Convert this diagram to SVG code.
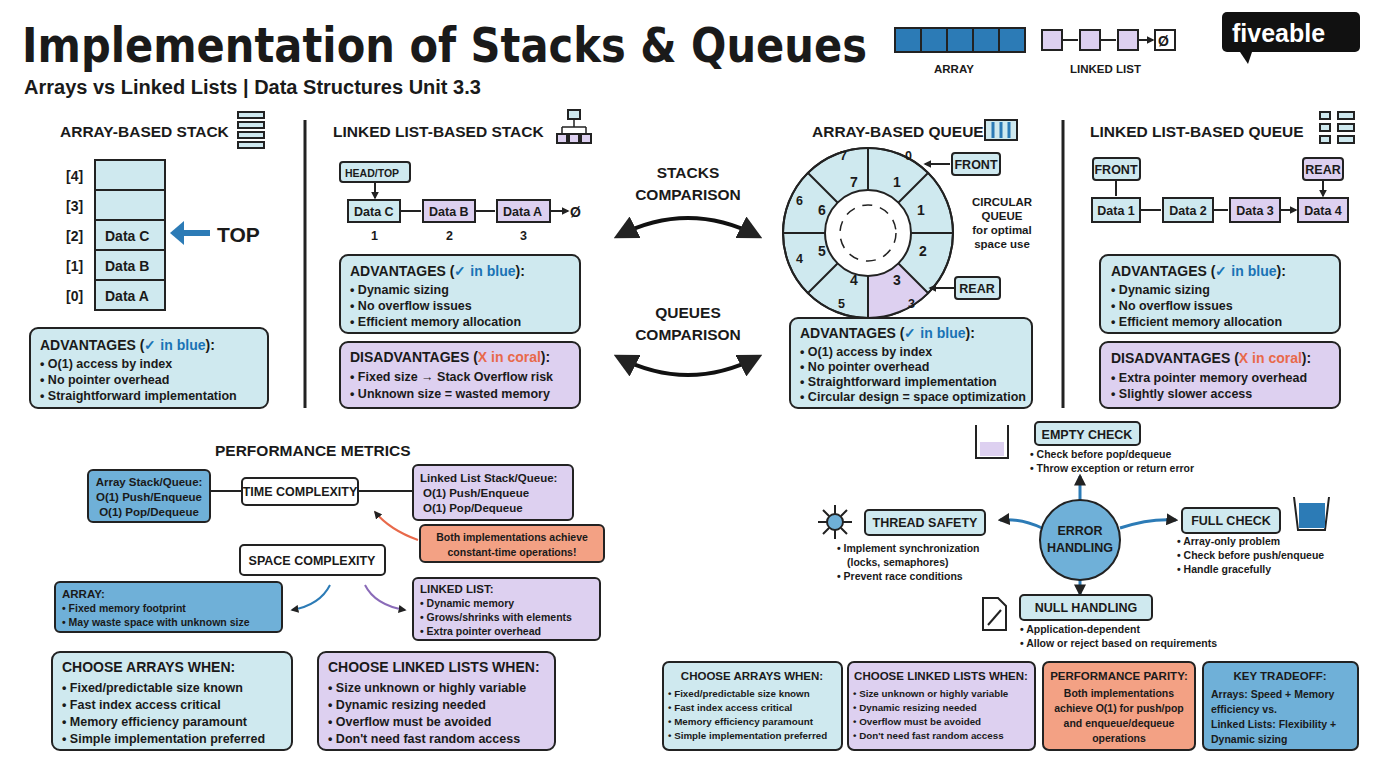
<svg xmlns="http://www.w3.org/2000/svg" width="1376" height="768" viewBox="0 0 1376 768">
<defs>
<style>
text{font-family:"Liberation Sans",Arial,sans-serif;font-weight:bold;fill:#1a1a1a}
.t{font-size:12.5px}
.s{font-size:11.5px}
.x{font-size:10.5px}
.h{font-size:14px}
.sec{font-size:15.5px}
.lb{fill:#cfe9ef;stroke:#222;stroke-width:2}
.pu{fill:#ddd0f0;stroke:#222;stroke-width:2}
.bl{fill:#6fb0d8;stroke:#222;stroke-width:2}
.co{fill:#f3a184;stroke:#222;stroke-width:2}
.wh{fill:#fff;stroke:#222;stroke-width:2}
.ln{fill:none;stroke:#222;stroke-width:2}
.bv{fill:#1a73b5}
.cr{fill:#e8694a}
</style>
<marker id="a" viewBox="0 0 10 10" refX="8" refY="5" markerWidth="6" markerHeight="6" orient="auto-start-reverse"><path d="M0,0L10,5L0,10z" fill="#222"/></marker>
<marker id="ab" viewBox="0 0 10 10" refX="8" refY="5" markerWidth="4" markerHeight="4" orient="auto-start-reverse"><path d="M0,0L10,5L0,10z" fill="#222"/></marker>
</defs>
<rect width="1376" height="768" fill="#fff"/>

<g id="title">
<text x="22" y="62" textLength="845" lengthAdjust="spacingAndGlyphs" style="font-size:48px;font-family:'DejaVu Sans',sans-serif">Implementation of Stacks &amp; Queues</text>
<text x="24" y="94" style="font-size:20px">Arrays vs Linked Lists | Data Structures Unit 3.3</text>
</g>
<g id="legend">
<rect x="895" y="28" width="130" height="24" fill="#2c7bb6" stroke="#222" stroke-width="2"/>
<path d="M921,28v24M947,28v24M973,28v24M999,28v24" stroke="#222" stroke-width="2"/>
<text x="934" y="73" class="s">ARRAY</text>
<rect x="1042" y="30" width="20" height="20" class="pu"/><rect x="1080" y="30" width="20" height="20" class="pu"/><rect x="1118" y="30" width="20" height="20" class="pu"/><rect x="1155" y="30" width="20" height="20" class="wh"/>
<text x="1158" y="46" class="h">Ø</text>
<path d="M1062,40h16M1100,40h16M1138,40h15" class="ln" marker-end="url(#ab)"/>
<text x="1070" y="73" class="s">LINKED LIST</text>
<rect x="1222" y="12" width="138" height="40" rx="5" fill="#111"/><path d="M1240,52l8,12 4,-12z" fill="#111"/>
<text x="1232" y="42" style="font-size:25px;fill:#fff">fiveable</text>
</g>

<g id="dividers"><path d="M305,120V408M1063,120V408" stroke="#222" stroke-width="3"/></g>

<g id="array-stack">
<text x="60" y="137" class="sec">ARRAY-BASED STACK</text>
<rect x="238" y="112" width="26" height="6" class="lb"/><rect x="238" y="122" width="26" height="6" class="lb"/><rect x="238" y="132" width="26" height="6" class="lb"/><rect x="238" y="142" width="26" height="6" class="lb"/>
<rect x="95" y="160" width="70" height="150" class="lb"/>
<path d="M95,190h70M95,220h70M95,250h70M95,280h70" class="ln"/>
<text x="66" y="181" class="h">[4]</text><text x="66" y="211" class="h">[3]</text><text x="66" y="241" class="h">[2]</text><text x="66" y="271" class="h">[1]</text><text x="66" y="301" class="h">[0]</text>
<text x="105" y="241" class="h">Data C</text><text x="105" y="271" class="h">Data B</text><text x="105" y="301" class="h">Data A</text>
<path d="M210,233H176" stroke="#2c7bb6" stroke-width="6" fill="none"/><path d="M170,233l14,-12v24z" fill="#2c7bb6"/>
<text x="217" y="242" style="font-size:21px">TOP</text>
</g>
<g id="array-stack-adv">
<rect x="30" y="328" width="238" height="80" rx="8" class="lb"/>
<text x="40" y="350" class="h">ADVANTAGES (<tspan class="bv">✓ in blue</tspan>):</text>
<text x="40" y="368" class="t">• O(1) access by index</text>
<text x="40" y="384" class="t">• No pointer overhead</text>
<text x="40" y="400" class="t">• Straightforward implementation</text>
</g>

<g id="ll-stack">
<text x="333" y="137" class="sec">LINKED LIST-BASED STACK</text>
<rect x="568" y="110" width="12" height="9" class="lb"/><rect x="557" y="134" width="10" height="9" class="pu"/><rect x="569" y="134" width="10" height="9" class="pu"/><rect x="581" y="134" width="10" height="9" class="pu"/>
<path d="M574,119v8M562,127h24M562,127v7M586,127v7" class="ln" style="stroke-width:1.5"/>
<rect x="340" y="162" width="70" height="20" rx="3" class="lb"/><text x="345" y="177" class="x">HEAD/TOP</text>
<path d="M375,182v16" class="ln" marker-end="url(#ab)"/>
<rect x="348" y="200" width="52" height="22" class="lb"/><text x="354" y="216" class="t">Data C</text>
<rect x="423" y="200" width="52" height="22" class="pu"/><text x="429" y="216" class="t">Data B</text>
<rect x="497" y="200" width="53" height="22" class="pu"/><text x="503" y="216" class="t">Data A</text>
<path d="M400,211h21M475,211h20M550,211h18" class="ln" marker-end="url(#ab)"/>
<text x="570" y="217" class="h">Ø</text>
<text x="371" y="240" class="t">1</text><text x="446" y="240" class="t">2</text><text x="520" y="240" class="t">3</text>
<rect x="340" y="255" width="240" height="78" rx="8" class="lb"/>
<text x="350" y="276" class="h">ADVANTAGES (<tspan class="bv">✓ in blue</tspan>):</text>
<text x="350" y="294" class="t">• Dynamic sizing</text>
<text x="350" y="310" class="t">• No overflow issues</text>
<text x="350" y="326" class="t">• Efficient memory allocation</text>
<rect x="340" y="342" width="240" height="66" rx="8" class="pu"/>
<text x="350" y="362" class="h">DISADVANTAGES (<tspan class="cr">X in coral</tspan>):</text>
<text x="350" y="381" class="t">• Fixed size → Stack Overflow risk</text>
<text x="350" y="398" class="t">• Unknown size = wasted memory</text>
</g>

<g id="comparisons">
<text x="688" y="178" class="sec" text-anchor="middle">STACKS</text><text x="688" y="200" class="sec" text-anchor="middle">COMPARISON</text>
<text x="688" y="318" class="sec" text-anchor="middle">QUEUES</text><text x="688" y="340" class="sec" text-anchor="middle">COMPARISON</text>
</g>
<g id="connectors">
<path d="M618,236Q688,200 758,236" fill="none" stroke="#111" stroke-width="4" marker-start="url(#a)" marker-end="url(#a)"/>
<path d="M618,357Q688,393 758,357" fill="none" stroke="#111" stroke-width="4" marker-start="url(#a)" marker-end="url(#a)"/>
<path d="M418,540Q390,530 375,512" class="ln" style="stroke:#e8694a" marker-end="url(#ab)"/>
<path d="M330,585Q320,605 292,610" class="ln" style="stroke:#2c7bb6" marker-end="url(#ab)"/>
<path d="M365,585Q375,605 405,610" class="ln" style="stroke:#8a6bb8" marker-end="url(#ab)"/>
<path d="M1080,500V476" class="ln" style="stroke:#2c7bb6;stroke-width:3" marker-end="url(#ab)"/>
<path d="M1080,580V594" class="ln" style="stroke:#2c7bb6;stroke-width:3" marker-end="url(#ab)"/>
<path d="M1042,528Q1020,518 1000,520" class="ln" style="stroke:#2c7bb6;stroke-width:3" marker-end="url(#ab)"/>
<path d="M1120,528Q1150,518 1176,520" class="ln" style="stroke:#2c7bb6;stroke-width:3" marker-end="url(#ab)"/>
</g>

<g id="array-queue">
<text x="812" y="137" class="sec">ARRAY-BASED QUEUE</text>
<rect x="985" y="120" width="32" height="20" class="lb"/><path d="M993,122v16M1001,122v16M1009,122v16" stroke="#2c7bb6" stroke-width="3"/>
<circle cx="868" cy="233" r="85" class="lb"/>
<path d="M898,263L928,293A85,85 0 0,1 868,318V276A43,43 0 0,0 898,263z" fill="#ddd0f0"/>
<circle cx="868" cy="233" r="85" class="ln"/>
<circle cx="868" cy="233" r="43" class="wh"/>
<circle cx="868" cy="233" r="28" fill="none" stroke="#222" stroke-width="1.5" stroke-dasharray="10 8"/>
<path d="M868,148V190M868,276V318M783,233H825M911,233H953M808,173L838,203M898,263L928,293M928,173L898,203M838,263L808,293" class="ln"/>
<text x="850" y="187" class="h">7</text><text x="893" y="187" class="h">1</text>
<text x="818" y="215" class="h">6</text><text x="917" y="215" class="h">1</text>
<text x="818" y="256" class="h">5</text><text x="919" y="256" class="h">2</text>
<text x="850" y="285" class="h">4</text><text x="893" y="285" class="h">3</text>
<text x="840" y="160" class="t">7</text><text x="905" y="160" class="t">0</text>
<text x="796" y="205" class="t">6</text><text x="796" y="263" class="t">4</text>
<text x="838" y="308" class="t">5</text><text x="908" y="308" class="t">3</text>
<path d="M950,164H925" class="ln" marker-end="url(#ab)"/>
<rect x="952" y="153" width="48" height="22" rx="3" class="lb"/><text x="976" y="169" class="t" text-anchor="middle">FRONT</text>
<path d="M955,288H930" class="ln" marker-end="url(#ab)"/>
<rect x="955" y="277" width="45" height="22" rx="3" class="lb"/><text x="977" y="293" class="t" text-anchor="middle">REAR</text>
<text x="1002" y="206" class="s" text-anchor="middle">CIRCULAR</text><text x="1002" y="220" class="s" text-anchor="middle">QUEUE</text>
<text x="1002" y="234" class="s" text-anchor="middle">for optimal</text><text x="1002" y="248" class="s" text-anchor="middle">space use</text>
<rect x="790" y="318" width="242" height="90" rx="8" class="lb"/>
<text x="800" y="338" class="h">ADVANTAGES (<tspan class="bv">✓ in blue</tspan>):</text>
<text x="800" y="356" class="t">• O(1) access by index</text>
<text x="800" y="371" class="t">• No pointer overhead</text>
<text x="800" y="386" class="t">• Straightforward implementation</text>
<text x="800" y="401" class="t" textLength="226" lengthAdjust="spacingAndGlyphs">• Circular design = space optimization</text>
</g>

<g id="ll-queue">
<text x="1090" y="137" class="sec">LINKED LIST-BASED QUEUE</text>
<rect x="1320" y="112" width="10" height="7" class="lb"/><rect x="1338" y="112" width="16" height="7" class="lb"/><rect x="1320" y="124" width="10" height="7" class="lb"/><rect x="1338" y="124" width="16" height="7" class="lb"/><rect x="1320" y="136" width="10" height="7" class="lb"/><rect x="1338" y="136" width="16" height="7" class="lb"/>
<rect x="1093" y="158" width="47" height="22" rx="3" class="lb"/><text x="1116" y="174" class="t" text-anchor="middle">FRONT</text>
<rect x="1303" y="158" width="40" height="22" rx="3" class="pu"/><text x="1323" y="174" class="t" text-anchor="middle">REAR</text>
<path d="M1116,180v16M1323,180v16" class="ln" marker-end="url(#ab)"/>
<rect x="1092" y="198" width="48" height="24" class="lb"/><text x="1116" y="215" class="t" text-anchor="middle">Data 1</text>
<rect x="1163" y="198" width="50" height="24" class="lb"/><text x="1188" y="215" class="t" text-anchor="middle">Data 2</text>
<rect x="1230" y="198" width="50" height="24" class="pu"/><text x="1255" y="215" class="t" text-anchor="middle">Data 3</text>
<rect x="1298" y="198" width="50" height="24" class="pu"/><text x="1323" y="215" class="t" text-anchor="middle">Data 4</text>
<path d="M1140,210h21M1213,210h15M1280,210h16" class="ln" marker-end="url(#ab)"/>
<rect x="1100" y="255" width="240" height="78" rx="8" class="lb"/>
<text x="1111" y="276" class="h">ADVANTAGES (<tspan class="bv">✓ in blue</tspan>):</text>
<text x="1111" y="294" class="t">• Dynamic sizing</text>
<text x="1111" y="310" class="t">• No overflow issues</text>
<text x="1111" y="326" class="t">• Efficient memory allocation</text>
<rect x="1100" y="342" width="240" height="66" rx="8" class="pu"/>
<text x="1111" y="363" class="h">DISADVANTAGES (<tspan class="cr">X in coral</tspan>):</text>
<text x="1111" y="382" class="t">• Extra pointer memory overhead</text>
<text x="1111" y="398" class="t">• Slightly slower access</text>
</g>

<g id="performance">
<text x="215" y="456" class="sec">PERFORMANCE METRICS</text>
<rect x="88" y="470" width="122" height="52" rx="5" class="bl"/>
<text x="149" y="486" class="s" text-anchor="middle">Array Stack/Queue:</text><text x="149" y="501" class="s" text-anchor="middle">O(1) Push/Enqueue</text><text x="149" y="516" class="s" text-anchor="middle">O(1) Pop/Dequeue</text>
<path d="M210,491H242M358,491H413" class="ln"/>
<rect x="242" y="478" width="116" height="27" rx="4" class="wh"/><text x="300" y="496" class="t" text-anchor="middle">TIME COMPLEXITY</text>
<rect x="413" y="465" width="160" height="55" rx="5" class="pu"/>
<text x="420" y="482" class="s">Linked List Stack/Queue:</text><text x="423" y="497" class="s">O(1) Push/Enqueue</text><text x="423" y="512" class="s">O(1) Pop/Dequeue</text>
<rect x="420" y="525" width="184" height="37" rx="5" class="co"/>
<text x="512" y="541" class="x" text-anchor="middle">Both implementations achieve</text><text x="512" y="556" class="x" text-anchor="middle">constant-time operations!</text>
<rect x="240" y="545" width="145" height="30" rx="4" class="wh"/><text x="312" y="565" class="t" text-anchor="middle">SPACE COMPLEXITY</text>
<rect x="55" y="582" width="227" height="50" rx="5" class="bl"/>
<text x="62" y="598" class="s">ARRAY:</text><text x="62" y="612" class="x">• Fixed memory footprint</text><text x="62" y="626" class="x">• May waste space with unknown size</text>
<rect x="413" y="578" width="187" height="62" rx="5" class="pu"/>
<text x="420" y="593" class="s">LINKED LIST:</text><text x="420" y="607" class="x">• Dynamic memory</text><text x="420" y="621" class="x">• Grows/shrinks with elements</text><text x="420" y="635" class="x">• Extra pointer overhead</text>
<rect x="52" y="652" width="240" height="98" rx="8" class="lb"/>
<text x="62" y="672" class="h">CHOOSE ARRAYS WHEN:</text>
<text x="62" y="692" class="t">• Fixed/predictable size known</text><text x="62" y="709" class="t">• Fast index access critical</text><text x="62" y="726" class="t">• Memory efficiency paramount</text><text x="62" y="743" class="t">• Simple implementation preferred</text>
<rect x="318" y="652" width="237" height="98" rx="8" class="pu"/>
<text x="328" y="672" class="h">CHOOSE LINKED LISTS WHEN:</text>
<text x="328" y="692" class="t">• Size unknown or highly variable</text><text x="328" y="709" class="t">• Dynamic resizing needed</text><text x="328" y="726" class="t">• Overflow must be avoided</text><text x="328" y="743" class="t">• Don't need fast random access</text>
</g>

<g id="error-handling">
<circle cx="1080" cy="540" r="40" class="bl"/>
<text x="1080" y="535" class="t" text-anchor="middle">ERROR</text><text x="1080" y="552" class="t" text-anchor="middle">HANDLING</text>
<path d="M976,425V458H1008V425" class="ln"/><rect x="980" y="442" width="24" height="14" fill="#ddd0f0"/>
<rect x="1035" y="422" width="105" height="23" rx="4" class="lb"/><text x="1087" y="439" class="t" text-anchor="middle">EMPTY CHECK</text>
<text x="1030" y="458" class="x">• Check before pop/dequeue</text><text x="1030" y="472" class="x">• Throw exception or return error</text>
<circle cx="835" cy="522" r="8" fill="#6fb0d8" stroke="#222" stroke-width="2"/>
<path d="M835,505v9M835,530v9M818,522h9M843,522h9M823,510l6,6M847,510l-6,6M823,534l6,-6M847,534l-6,-6" stroke="#222" stroke-width="2"/>
<rect x="865" y="510" width="120" height="25" rx="4" class="lb"/><text x="925" y="527" class="t" text-anchor="middle">THREAD SAFETY</text>
<text x="837" y="552" class="x">• Implement synchronization</text><text x="847" y="566" class="x">(locks, semaphores)</text><text x="837" y="580" class="x">• Prevent race conditions</text>
<rect x="1182" y="508" width="98" height="25" rx="4" class="lb"/><text x="1231" y="525" class="t" text-anchor="middle">FULL CHECK</text>
<path d="M1294,497L1298,530H1325L1329,497" class="ln"/><rect x="1299" y="503" width="26" height="25" fill="#2c7bb6"/>
<text x="1177" y="545" class="x">• Array-only problem</text><text x="1177" y="559" class="x">• Check before push/enqueue</text><text x="1177" y="573" class="x">• Handle gracefully</text>
<path d="M983,598H998L1006,606V630H983Z" class="wh"/><path d="M988,625L1001,610" class="ln"/>
<rect x="1020" y="595" width="132" height="25" rx="4" class="lb"/><text x="1086" y="612" class="t" text-anchor="middle">NULL HANDLING</text>
<text x="1020" y="633" class="x">• Application-dependent</text><text x="1020" y="647" class="x">• Allow or reject based on requirements</text>
</g>

<g id="summary">
<rect x="663" y="662" width="179" height="88" rx="6" class="lb"/>
<text x="752" y="680" class="s" text-anchor="middle">CHOOSE ARRAYS WHEN:</text>
<text x="668" y="697" style="font-size:9.8px">• Fixed/predictable size known</text><text x="668" y="711" style="font-size:9.8px">• Fast index access critical</text><text x="668" y="725" style="font-size:9.8px">• Memory efficiency paramount</text><text x="668" y="739" style="font-size:9.8px">• Simple implementation preferred</text>
<rect x="848" y="662" width="187" height="88" rx="6" class="pu"/>
<text x="941" y="680" class="s" text-anchor="middle">CHOOSE LINKED LISTS WHEN:</text>
<text x="853" y="697" style="font-size:9.8px">• Size unknown or highly variable</text><text x="853" y="711" style="font-size:9.8px">• Dynamic resizing needed</text><text x="853" y="725" style="font-size:9.8px">• Overflow must be avoided</text><text x="853" y="739" style="font-size:9.8px">• Don't need fast random access</text>
<rect x="1043" y="662" width="152" height="88" rx="6" class="co"/>
<text x="1119" y="680" class="s" text-anchor="middle">PERFORMANCE PARITY:</text>
<text x="1119" y="697" class="x" text-anchor="middle">Both implementations</text><text x="1119" y="712" class="x" text-anchor="middle">achieve O(1) for push/pop</text><text x="1119" y="727" class="x" text-anchor="middle">and enqueue/dequeue</text><text x="1119" y="742" class="x" text-anchor="middle">operations</text>
<rect x="1203" y="662" width="155" height="88" rx="6" class="bl"/>
<text x="1280" y="680" class="s" text-anchor="middle">KEY TRADEOFF:</text>
<text x="1211" y="698" class="x">Arrays: Speed + Memory</text><text x="1211" y="713" class="x">efficiency vs.</text><text x="1211" y="728" class="x">Linked Lists: Flexibility +</text><text x="1211" y="743" class="x">Dynamic sizing</text>
</g>
</svg>
